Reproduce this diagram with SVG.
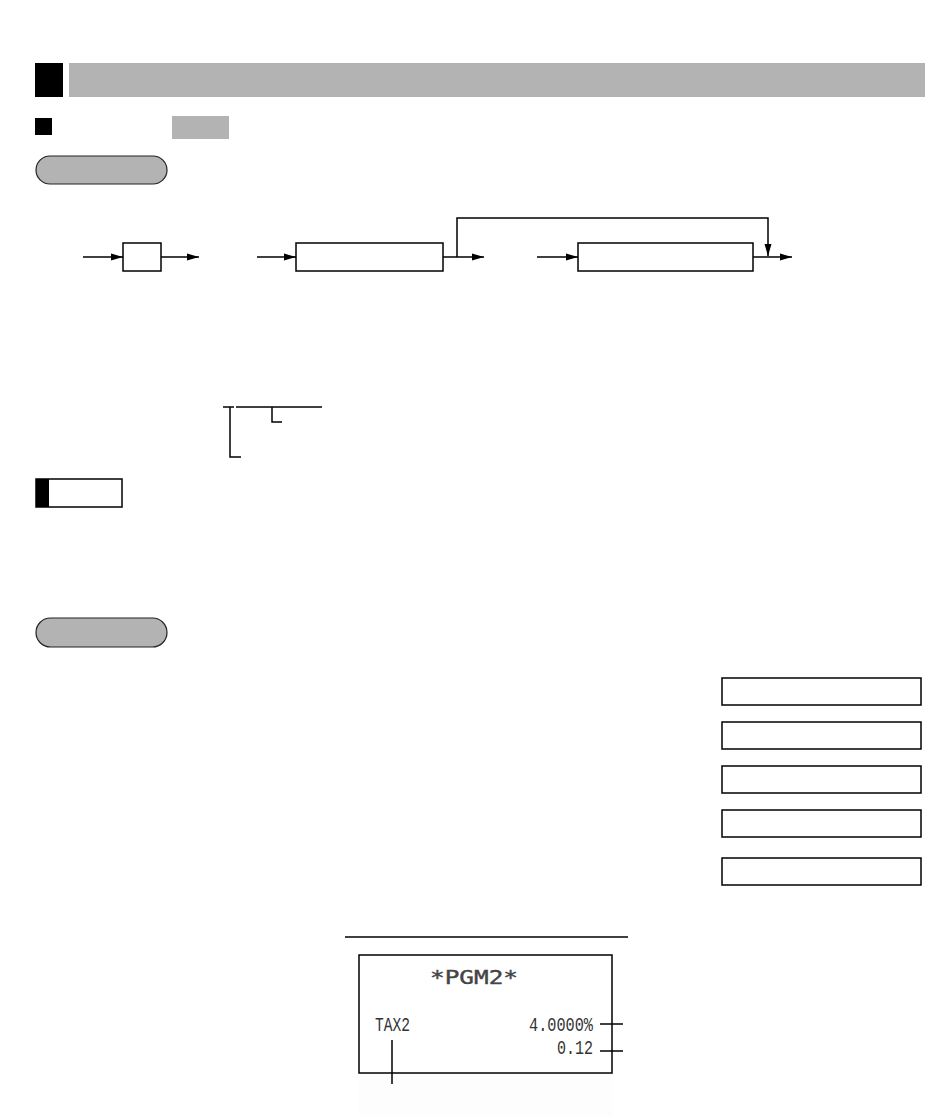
<svg xmlns="http://www.w3.org/2000/svg" width="925" height="1117" viewBox="0 0 925 1117">
<style>
.ln{stroke:#000;stroke-width:1.5;fill:none}
.bx{stroke:#000;stroke-width:1.5;fill:#fff}
.pill{fill:#b3b3b3;stroke:#222;stroke-width:1.2}
.gray{fill:#b3b3b3}
.rc{font-family:"Liberation Mono","DejaVu Sans Mono",monospace;font-size:20px;fill:#333}
.big{font-family:"DejaVu Sans Mono","Liberation Mono",monospace;font-size:19px;fill:#444;stroke:#444;stroke-width:0.4}
</style>
<defs>
<marker id="ah" markerWidth="12" markerHeight="8" refX="12" refY="4" orient="auto" markerUnits="userSpaceOnUse">
<path d="M0,0.5 L12,4 L0,7.5 Z" fill="#000"/>
</marker>
</defs>
<rect width="925" height="1117" fill="#fff"/>

<g id="header">
<rect x="35" y="63" width="28" height="34" fill="#000"/>
<rect x="69" y="63" width="856" height="34" class="gray"/>
<rect x="35" y="118" width="17" height="17" fill="#000"/>
<rect x="172" y="116" width="57" height="23" class="gray"/>
</g>

<g id="pill1"><rect x="36" y="156" width="131" height="28" rx="14" class="pill"/></g>

<g id="node-key"><rect x="123" y="243" width="38" height="28" class="bx"/></g>
<g id="node-box2"><rect x="296" y="243" width="147" height="28" class="bx"/></g>
<g id="node-box3"><rect x="578" y="243" width="175" height="28" class="bx"/></g>

<g id="connectors">
<line x1="83" y1="257" x2="123" y2="257" class="ln" marker-end="url(#ah)"/>
<line x1="161" y1="257" x2="199" y2="257" class="ln" marker-end="url(#ah)"/>
<line x1="257" y1="257" x2="296" y2="257" class="ln" marker-end="url(#ah)"/>
<line x1="443" y1="257" x2="484" y2="257" class="ln" marker-end="url(#ah)"/>
<polyline points="457,257 457,218 768,218 768,256" class="ln" marker-end="url(#ah)"/>
<line x1="537" y1="257" x2="578" y2="257" class="ln" marker-end="url(#ah)"/>
<line x1="753" y1="257" x2="792" y2="257" class="ln" marker-end="url(#ah)"/>
</g>

<g id="bracket">
<line x1="223" y1="407" x2="234" y2="407" class="ln"/>
<line x1="236" y1="407" x2="322" y2="407" class="ln"/>
<polyline points="230,407 230,457 241,457" class="ln"/>
<polyline points="272,407 272,422 282,422" class="ln"/>
</g>

<g id="note">
<rect x="36" y="479" width="86" height="28" class="bx"/>
<rect x="36" y="479" width="13" height="28" fill="#000"/>
</g>

<g id="pill2"><rect x="36" y="618" width="131" height="29" rx="14.5" class="pill"/></g>

<g id="right-boxes">
<rect x="722" y="678" width="199" height="27" class="bx"/>
<rect x="722" y="722" width="199" height="27" class="bx"/>
<rect x="722" y="766" width="199" height="27" class="bx"/>
<rect x="722" y="810" width="199" height="27" class="bx"/>
<rect x="722" y="858" width="199" height="27" class="bx"/>
</g>

<g id="receipt">
<line x1="345" y1="937" x2="628" y2="937" class="ln"/>
<rect x="359" y="1073" width="253" height="44" fill="#fdfdfd"/>
<rect x="359" y="955" width="253" height="118" class="bx"/>
<text x="430" y="984" class="big" textLength="88" lengthAdjust="spacingAndGlyphs">*PGM2*</text>
<text x="375" y="1031" class="rc" textLength="35" lengthAdjust="spacingAndGlyphs">TAX2</text>
<text x="529" y="1031" class="rc" textLength="64" lengthAdjust="spacingAndGlyphs">4.0000%</text>
<text x="557" y="1054" class="rc" textLength="36" lengthAdjust="spacingAndGlyphs">0.12</text>
<line x1="600" y1="1024" x2="623" y2="1024" class="ln"/>
<line x1="600" y1="1051" x2="623" y2="1051" class="ln"/>
<line x1="392" y1="1040" x2="392" y2="1084" class="ln"/>
</g>
</svg>
